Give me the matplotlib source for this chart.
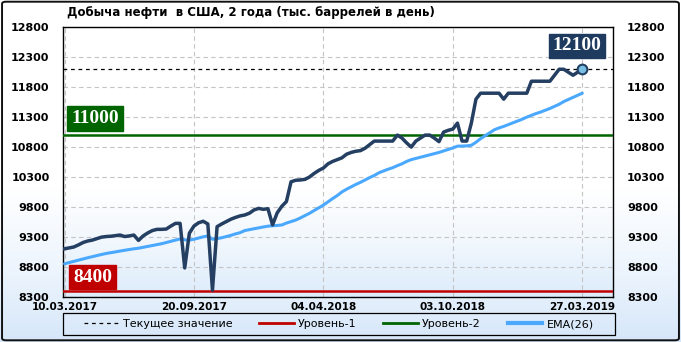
import numpy as np
import matplotlib.pyplot as plt
from matplotlib.colors import LinearSegmentedColormap
from matplotlib.lines import Line2D
from matplotlib.patches import FancyBboxPatch, Rectangle

plt.rcParams['font.family'] = 'DejaVu Sans'

# weekly US crude production, thousand bbl/day
production = [
    9100, 9115, 9130, 9165, 9205, 9230, 9245, 9270, 9295, 9305,
    9310, 9320, 9330, 9305, 9315, 9330, 9240, 9315, 9365, 9405,
    9425, 9425, 9430, 9480, 9525, 9525, 8780, 9360, 9480, 9535,
    9560, 9515, 8410, 9470, 9515, 9555, 9595, 9625, 9650, 9665,
    9695, 9750, 9775, 9760, 9770, 9500, 9700, 9810, 9890, 10220,
    10245, 10250, 10260, 10300, 10360, 10410, 10450, 10520, 10560, 10590,
    10620, 10680, 10710, 10730, 10740, 10780, 10840, 10900, 10900, 10900,
    10900, 10900, 11000, 10950, 10870, 10800, 10900, 10950, 11000, 11000,
    10950, 10890, 11050, 11080, 11100, 11200, 10900, 10900, 11200, 11600,
    11700, 11700, 11700, 11700, 11700, 11600, 11700, 11700, 11700, 11700,
    11700, 11900, 11900, 11900, 11900, 11900, 12000, 12100, 12100, 12050,
    12000, 12050, 12100,
]
ema26 = [
    8850, 8870, 8890, 8910, 8930, 8950, 8968, 8987, 9005, 9022,
    9035, 9048, 9062, 9075, 9088, 9100, 9110, 9125, 9140, 9155,
    9170, 9185, 9205, 9225, 9245, 9265, 9250, 9245, 9260, 9280,
    9300, 9315, 9260, 9270, 9285, 9305, 9325, 9350, 9370, 9405,
    9420, 9435, 9450, 9465, 9478, 9485, 9490, 9498, 9530, 9555,
    9580, 9615, 9655, 9693, 9740, 9785, 9830, 9885, 9940, 9990,
    10050, 10095, 10135, 10175, 10210, 10250, 10290, 10325, 10370, 10400,
    10430, 10455, 10490, 10520, 10560, 10590, 10610, 10630, 10650, 10670,
    10690, 10710, 10735, 10760, 10785, 10815, 10817, 10820, 10830, 10880,
    10940, 10990, 11040, 11090, 11120, 11145, 11175, 11205, 11235, 11265,
    11300, 11330, 11360, 11385, 11415, 11445, 11480, 11515, 11560, 11595,
    11630, 11665, 11700,
]
date_labels = ['10.03.2017', '20.09.2017', '04.04.2018', '03.10.2018', '27.03.2019']
label_every = 28
y_ticks = [8300, 8800, 9300, 9800, 10300, 10800, 11300, 11800, 12300, 12800]
current_value = 12100
level_1 = 8400
level_2 = 11000

navy = '#243f62'
ema_blue = '#4aa8ff'
red = '#c00000'
green = '#006400'

fig = plt.figure(figsize=(6.81, 3.42), dpi=100)

# figure background: white on top, pale blue towards the bottom
bg = fig.add_axes([0, 0, 1, 1], zorder=-10)
bg_cmap = LinearSegmentedColormap.from_list(
    'bg', [(0, '#ffffff'), (0.55, '#ffffff'), (0.8, '#ecf4fd'), (1, '#d6e7f9')])
bg.imshow(np.linspace(0, 1, 256).reshape(-1, 1), cmap=bg_cmap, aspect='auto', extent=[0, 1, 0, 1])
bg.set_axis_off()
bg.add_patch(FancyBboxPatch((0.003, 0.005), 0.994, 0.99, boxstyle='round,pad=0,rounding_size=0.006',
                            transform=bg.transAxes, fill=False, edgecolor='#111111', linewidth=1.4))
# legend frame spans the plot width
bg.add_patch(Rectangle((0.0925, 0.0205), 0.81, 0.064, transform=bg.transAxes,
                       fill=False, edgecolor='black', linewidth=0.9))

ax = fig.add_axes([0.093, 0.1325, 0.8075, 0.7875])
ax.patch.set_alpha(0)
ax_cmap = LinearSegmentedColormap.from_list(
    'axbg', [(0, '#ffffff'), (0.6, '#ffffff'), (0.8, '#f1f7fd'), (1, '#ddecfb')])
ax.imshow(np.linspace(0, 1, 256).reshape(-1, 1), cmap=ax_cmap, aspect='auto',
          extent=[0, 1, 0, 1], transform=ax.transAxes, zorder=0)

x = np.arange(len(production))
ax.plot(x, ema26, color=ema_blue, linewidth=2.2, zorder=4, solid_capstyle='round')
ax.plot(x, production, color=navy, linewidth=2.5, zorder=5, solid_joinstyle='round')
ax.plot(x[-1], production[-1], 'o', markersize=7, markerfacecolor='#79bfe3',
        markeredgecolor=navy, markeredgewidth=1.5, zorder=6)

ax.axhline(current_value, color='black', linestyle=(0, (3, 3)), linewidth=0.9, zorder=3)
ax.axhline(level_1, color=red, linewidth=1.8, zorder=3)
ax.axhline(level_2, color=green, linewidth=1.8, zorder=3)

box_font = dict(family='Liberation Serif', weight='bold', size=14, color='white')
ax.text(0.934, 0.931, f'{current_value}', transform=ax.transAxes, ha='center', va='center', zorder=7,
        bbox=dict(boxstyle='square,pad=0.2', facecolor='#1f3a5f', edgecolor='#1f3a5f'), **box_font)
ax.text(0.0145, 0.6615, f'{level_2}', transform=ax.transAxes, ha='left', va='center', zorder=7,
        bbox=dict(boxstyle='square,pad=0.2', facecolor=green, edgecolor=green), **box_font)
ax.text(0.018, 0.073, f'{level_1}', transform=ax.transAxes, ha='left', va='center', zorder=7,
        bbox=dict(boxstyle='square,pad=0.2', facecolor=red, edgecolor=red), **box_font)

ax.set_xlim(-0.26, 118.7)
ax.set_ylim(8300, 12800)
ax.set_xticks(range(0, len(production), label_every))
ax.set_xticklabels(date_labels)
ax.set_yticks(y_ticks)
ax.tick_params(axis='both', length=0, labelsize=8)
ax.tick_params(axis='y', labelright=True, pad=10)
ax.tick_params(axis='x', pad=4, labelsize=7.5)
for lbl in ax.get_xticklabels():
    lbl.set_fontweight('bold')
for t in ax.yaxis.get_major_ticks():
    t.label1.set_fontweight('bold')
    t.label2.set_fontweight('bold')
ax.grid(True, color='#c4c4c4', linestyle=(0, (4, 3)), linewidth=0.8, zorder=1)
for s in ax.spines.values():
    s.set_color('black')
    s.set_linewidth(1.0)

fig.text(0.098, 0.962, 'Добыча нефти  в США, 2 года (тыс. баррелей в день)',
         fontsize=8.5, fontweight='bold', va='center', ha='left')

handles = [
    Line2D([], [], color='black', linestyle=(0, (3, 3)), linewidth=0.9),
    Line2D([], [], color=red, linewidth=2),
    Line2D([], [], color=green, linewidth=2),
    Line2D([], [], color=ema_blue, linewidth=3),
]
names = ['Текущее значение', 'Уровень-1', 'Уровень-2', 'EMA(26)']
fig.legend(handles, names, loc='center', bbox_to_anchor=(0.0925, 0.0205, 0.81, 0.064),
           ncol=4, fontsize=8, frameon=False, columnspacing=2.4,
           handlelength=3.1, handletextpad=0.4, borderaxespad=0, borderpad=0.3)

fig.savefig('out.png', dpi=100)
